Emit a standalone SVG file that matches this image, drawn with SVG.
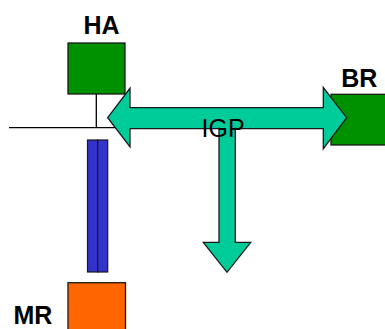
<svg xmlns="http://www.w3.org/2000/svg" width="385" height="329" viewBox="0 0 385 329">
  <style>
    .router { stroke: #1a1a1a; stroke-width: 1.3; }
    .green { fill: #009100; }
    .orange { fill: #FF6600; }
    .tunnel { fill: #3333CC; stroke: #1a1a1a; stroke-width: 1.2; }
    .wire { stroke: #000; stroke-width: 1.3; fill: none; }
    .igp { fill: #00CC99; stroke: #1a1a1a; stroke-width: 1.3; stroke-linejoin: miter; }
    .label { font-family: "Liberation Sans", Arial, sans-serif; font-size: 25px; fill: #000; }
    .bold { font-weight: bold; }
  </style>

  <!-- Home network LAN segment -->
  <g id="lan">
    <line class="wire" x1="9" y1="127.7" x2="116" y2="127.7"/>
  </g>

  <!-- Home agent -->
  <g id="ha">
    <line class="wire" x1="96.3" y1="94" x2="96.3" y2="127.7"/>
    <rect class="router green" x="68" y="43" width="57" height="51"/>
    <text class="label bold" x="83.5" y="33.5">HA</text>
  </g>

  <!-- Tunnel to mobile router -->
  <g id="tunnel">
    <rect class="tunnel" x="87.5" y="140" width="10.2" height="132"/>
    <rect class="tunnel" x="97.7" y="140" width="10" height="132"/>
  </g>

  <!-- Mobile router -->
  <g id="mr">
    <rect class="router orange" x="68" y="282.7" width="57.5" height="52"/>
    <text class="label bold" x="13.5" y="324">MR</text>
  </g>

  <!-- Border router -->
  <g id="br">
    <rect class="router green" x="331" y="94.3" width="60" height="50.7"/>
    <text class="label bold" x="341.3" y="86.7">BR</text>
  </g>

  <!-- IGP routing propagation arrows -->
  <g id="connectors">
    <polygon class="igp" points="107.7,117.7 130,88.3 130,107.7 323.3,107.7 323.3,87.5 346.7,117.7 323.3,148.7 323.3,128.7 130,128.7 130,146.8"/>
    <path class="igp" d="M219,127.5 L219,242.3 L203.3,242.3 L227,272.3 L250.7,242.3 L235.3,242.3 L235.3,127.5"/>
    <text class="label" x="201.5" y="137.3" font-size="25">IGP</text>
  </g>
</svg>
